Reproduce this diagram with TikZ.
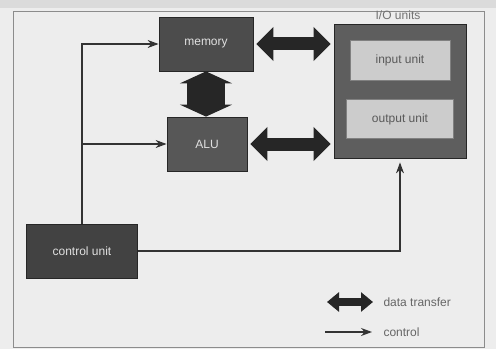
\documentclass[tikz,border=0pt]{standalone}
\usepackage{fontspec}
\setmainfont{Liberation Sans}
\usetikzlibrary{arrows.meta,positioning}

\begin{document}
\begin{tikzpicture}[x=1pt, y=1pt, every node/.style={font=\fontsize{12}{14}\selectfont},
    dark/.style={draw=black!85, line width=0.8pt, fill=black!70, text=black!12, inner sep=0pt},
    light/.style={draw=black!50, line width=0.8pt, fill=black!20, text=black!65, inner sep=0pt},
    fat/.style={line width=13pt, draw=black!85, {Triangle[length=17pt,width=33pt]}-{Triangle[length=17pt,width=33pt]}},
    arrow/.style={-{Stealth[length=11pt,width=8pt]}, line width=1.1pt, draw=black!80},
    legend/.style={anchor=west, text=black!60}]
      % paper and frame
      \fill[black!7] (0,0) rectangle (496,349);
      \fill[black!14] (0,341) rectangle (496,349);
      \draw[black!45, line width=0.8pt] (13,2) rectangle (484,338);
      % units
      \node[dark, minimum width=94pt, minimum height=54pt] (memory) at (206,305) {memory};
      \node[dark, fill=black!66, minimum width=80pt, minimum height=54pt] (alu) at (207,205) {ALU};
      \node[dark, fill=black!63, minimum width=132pt, minimum height=134pt] (io) at (400,258) {};
      \node[light, minimum width=100pt, minimum height=40pt] (input) at (400,289) {input unit};
      \node[light, minimum width=107pt, minimum height=39pt] (output) at (400,230) {output unit};
      \node[text=black!55] (iolabel) at (398,334) {I/O units};
      \node[dark, fill=black!74, minimum width=111pt, minimum height=54pt] (ctrl) at (82,98) {control unit};
      % data transfer
      \draw[fat, shorten <=3pt, shorten >=3pt] (memory.east) -- (memory.east -| io.west);
      \draw[fat, shorten <=3pt, shorten >=3pt] (alu.east) -- (alu.east -| io.west);
      \draw[fat, line width=38pt, {Triangle[length=12pt,width=52pt]}-{Triangle[length=12pt,width=52pt]}] (memory.south) -- (memory.south |- alu.north);
      % control
      \coordinate (branch) at (ctrl.north |- alu.west);
      \draw[arrow] (ctrl.north) |- (memory.west);
      \draw[arrow] (branch) -- (alu.west);
      \draw[arrow, shorten >=4pt] (ctrl.east) -| (io.south);
      % legend
      \node[legend] (dtlabel) at (380,47) {data transfer};
      \node[legend] (ctlabel) at (380,17) {control};
      \coordinate (dtstart) at (327,47);
      \coordinate (ctstart) at (325,17);
      \draw[fat, line width=8pt, {Triangle[length=12pt,width=19pt]}-{Triangle[length=12pt,width=19pt]}] (dtstart) -- ([xshift=-7pt]dtlabel.west);
      \draw[arrow] (ctstart) -- ([xshift=-8pt]ctlabel.west);
    \end{tikzpicture}
\end{document}
